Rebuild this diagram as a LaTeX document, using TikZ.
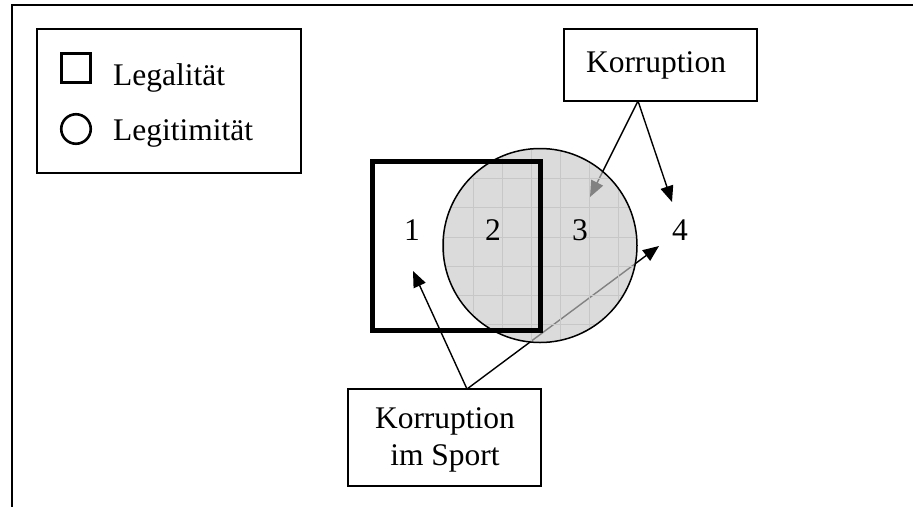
\documentclass[tikz,border=0pt]{standalone}
\usepackage{fontspec}
\setmainfont{Liberation Serif}
\usetikzlibrary{arrows.meta}
\definecolor{discfill}{gray}{0.785}
\definecolor{gridgray}{gray}{0.78}
\begin{document}
\begin{tikzpicture}[x=1pt,y=-1pt,
  frame/.style={line width=2pt},
  textbox/.style={draw,line width=1.6pt,inner sep=0pt},
  lbl/.style={inner sep=0pt,font=\fontsize{31.5}{36}\selectfont},
  arr/.style={line width=1.4pt,-{Triangle[length=16pt,width=13pt]}},
]
\useasboundingbox (0,0) rectangle (913,507);
\fill[white] (0,0) rectangle (913,507);

% outer frame (top and left edges only)
\draw[frame] (913,5) -- (12,5) -- (12,507);

% legend
\node[textbox,minimum width=264,minimum height=144] (legend) at (169,101) {};
\node[draw,line width=3pt,inner sep=0pt,minimum size=29] (keysq) at (76,68) {};
\node[draw,circle,line width=2.6pt,inner sep=0pt,minimum size=29.5] (keyci) at (76,129) {};
\node[lbl,anchor=base west] (keysqtxt) at (113,85) {Legalität};
\node[lbl,anchor=base west] (keycitxt) at (113,140) {Legitimität};

% label boxes
\node[textbox,minimum width=193,minimum height=72] (korr) at (660.5,65) {};
\node[lbl,anchor=base] (korrtxt) at (656,72) {Korruption};
\node[textbox,minimum width=193,minimum height=97] (sport) at (444.5,437.5) {};
\node[lbl,anchor=base] (sporttxt1) at (445,428) {Korruption};
\node[lbl,anchor=base] (sporttxt2) at (445,465) {im Sport};

% arrow end points
\coordinate (korrapex) at (638,101);
\coordinate (sportapex) at (467,389);
\coordinate (t3) at (590,197);
\coordinate (t4a) at (672,202);
\coordinate (t1) at (413,271);
\coordinate (t4b) at (659,246);

\draw[arr] (korrapex) -- (t3);
\draw[arr] (korrapex) -- (t4a);
\draw[arr] (sportapex) -- (t1);
\draw[arr] (sportapex) -- (t4b);

% legitimacy disc: translucent grey with a faint grid
\node[circle,inner sep=0pt,minimum size=194] (legit) at (540,245.5) {};
\fill[discfill,fill opacity=0.65] (legit.center) circle (97);
\begin{scope}
  \clip (legit.center) circle (97);
  \foreach \gx in {386,415,444,473,502,531,560,589,618} {
    \draw[gridgray,line width=0.8pt] (\gx,140) -- (\gx,350);
  }
  \foreach \gy in {149,178,207,237,266,295,324} {
    \draw[gridgray,line width=0.8pt] (430,\gy) -- (650,\gy);
  }
\end{scope}
\draw[line width=1.5pt] (legit.center) circle (97);

% legality square
\node[draw,line width=5pt,inner sep=0pt,minimum width=168,minimum height=169] (legal) at (456.5,246) {};

% region numbers
\node[lbl,anchor=base] (n1) at (412,240) {1};
\node[lbl,anchor=base] (n2) at (493,240) {2};
\node[lbl,anchor=base] (n3) at (580,240) {3};
\node[lbl,anchor=base] (n4) at (680,240) {4};
\end{tikzpicture}
\end{document}
